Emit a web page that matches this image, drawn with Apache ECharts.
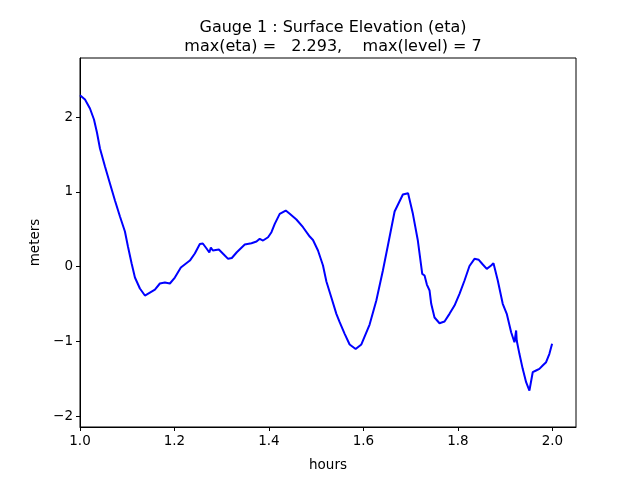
<!DOCTYPE html>
<html>
<head>
<meta charset="utf-8">
<script src="https://cdn.jsdelivr.net/npm/echarts@6/dist/echarts.min.js"></script>
<style>html,body{margin:0;padding:0;background:#fff}#c{width:640px;height:480px}</style>
</head>
<body>
<div id="c"></div>
<script>
const hours = [1.000,1.0106,1.0211,1.0296,1.0359,1.0423,1.0529,1.0634,1.0740,1.0846,1.0951,1.1015,1.1093,1.1163,1.1268,1.1374,1.1480,1.1586,1.1691,1.1797,1.1903,1.2008,1.2135,1.2326,1.2431,1.2537,1.2600,1.2679,1.2738,1.2770,1.2812,1.2939,1.3044,1.3135,1.3214,1.3319,1.3488,1.3630,1.3736,1.3805,1.3875,1.3981,1.4053,1.4123,1.4228,1.4355,1.4440,1.4581,1.4721,1.4863,1.4932,1.5038,1.5144,1.5216,1.5321,1.5427,1.5497,1.5603,1.5708,1.5835,1.5956,1.6131,1.6273,1.6412,1.6518,1.6660,1.6835,1.6945,1.7047,1.7152,1.7245,1.7294,1.7343,1.7400,1.7435,1.7505,1.7611,1.7717,1.7822,1.7928,1.8034,1.8140,1.8245,1.8351,1.8442,1.8527,1.8611,1.8704,1.8753,1.8844,1.8949,1.9034,1.9127,1.9197,1.9233,1.9245,1.9302,1.9372,1.9444,1.9514,1.9550,1.9584,1.9655,1.9725,1.9795,1.9867,1.9937,1.9994];
const eta = [2.293,2.234,2.114,1.967,1.793,1.579,1.338,1.110,0.883,0.669,0.468,0.268,0.040,-0.147,-0.294,-0.388,-0.348,-0.308,-0.227,-0.214,-0.227,-0.147,-0.013,0.080,0.174,0.301,0.308,0.241,0.187,0.254,0.214,0.227,0.161,0.103,0.114,0.191,0.294,0.312,0.334,0.371,0.348,0.392,0.459,0.571,0.705,0.749,0.705,0.629,0.526,0.401,0.355,0.214,0.013,-0.201,-0.415,-0.633,-0.745,-0.900,-1.043,-1.104,-1.043,-0.776,-0.455,-0.054,0.281,0.736,0.963,0.981,0.705,0.348,-0.098,-0.120,-0.241,-0.321,-0.499,-0.682,-0.759,-0.736,-0.633,-0.522,-0.365,-0.187,0.007,0.103,0.090,0.027,-0.031,0.013,0.044,-0.187,-0.499,-0.633,-0.879,-1.013,-0.856,-0.990,-1.168,-1.369,-1.548,-1.659,-1.636,-1.414,-1.391,-1.369,-1.324,-1.280,-1.168,-1.034];
const xTicks = [1.0,1.2,1.4,1.6,1.8,2.0];
const yTicks = [-2,-1,0,1,2];
const titleText = 'Gauge 1 : Surface Elevation (eta)\nmax(eta) =   2.293,    max(level) = 7';

const font = 'DejaVu Sans';
const chart = echarts.init(document.getElementById('c'), null, {renderer:'canvas'});
const fmt = v => String(v).replace('-', '\u2212');
chart.setOption({
  animation:false,
  backgroundColor:'#fff',
  title:{text:titleText,left:328,top:13,textAlign:'center',
    textStyle:{fontFamily:font,fontSize:16,fontWeight:'normal',color:'#000',lineHeight:19}},
  grid:{left:80,right:64,top:58,bottom:53,show:true,borderColor:'#000',borderWidth:1,backgroundColor:'transparent'},
  xAxis:{type:'value',min:1.0,max:2.05,
    name:'hours',nameLocation:'middle',nameGap:31,
    nameTextStyle:{fontFamily:font,fontSize:13.5,color:'#000'},
    axisLine:{show:true,onZero:false,lineStyle:{color:'#000',width:1}},
    axisTick:{show:true,inside:false,length:4,lineStyle:{color:'#000'},customValues:xTicks},
    axisLabel:{customValues:xTicks,margin:7,fontFamily:font,fontSize:13.5,color:'#000',formatter:v=>v.toFixed(1)},
    splitLine:{show:false}},
  yAxis:{type:'value',min:-2.147,max:2.79,
    name:'meters',nameLocation:'middle',nameGap:37,nameRotate:90,
    nameTextStyle:{fontFamily:font,fontSize:13.5,color:'#000'},
    axisLine:{show:true,onZero:false,lineStyle:{color:'#000',width:1}},
    axisTick:{show:true,inside:false,length:4,lineStyle:{color:'#000'},customValues:yTicks},
    axisLabel:{customValues:yTicks,margin:7,fontFamily:font,fontSize:13.5,color:'#000',formatter:v=>fmt(v)},
    splitLine:{show:false}},
  series:[{type:'line',data:hours.map((h,i)=>[h,eta[i]]),showSymbol:false,smooth:false,
    lineStyle:{color:'#0000ff',width:2},itemStyle:{color:'#0000ff'}}]
});
</script>
</body>
</html>
